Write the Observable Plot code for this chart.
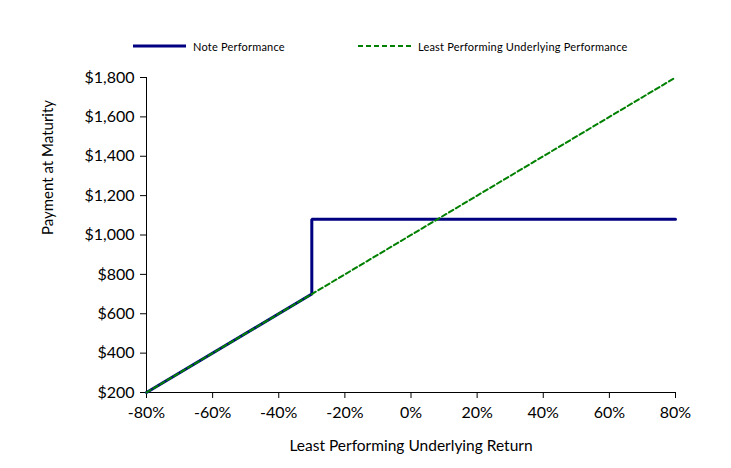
<!DOCTYPE html>
<html>
<head>
<meta charset="utf-8">
<script src="https://cdn.jsdelivr.net/npm/d3@7"></script>
<script src="https://cdn.jsdelivr.net/npm/@observablehq/plot@0.6"></script>
<style>
  body { margin: 0; background: #fff; font-family: Lato, "Open Sans", sans-serif; }
  #wrap { width: 731px; height: 468px; position: relative; }
  #legend { position: relative; height: 60px; width: 731px; font-size: 11px; color: #000; }
  .item { position: absolute; top: 39px; display: flex; align-items: center; height: 14px; }
  .item svg { margin-right: 7px; }
</style>
</head>
<body>
<div id="wrap">
  <div id="legend"></div>
  <div id="chart"></div>
</div>
<script>
// Data
const noteReturns = [-80, -30, -30, 80];
const notePayments = [200, 700, 1080, 1080];
const underlyingReturns = [-80, 80];
const underlyingPayments = [200, 1800];
const xTicks = [-80, -60, -40, -20, 0, 20, 40, 60, 80];
const yTicks = [200, 400, 600, 800, 1000, 1200, 1400, 1600, 1800];
const seriesNames = ["Note Performance", "Least Performing Underlying Performance"];
const seriesColors = ["#000080", "#008000"];

const note = noteReturns.map((x, i) => ({x, y: notePayments[i]}));
const under = underlyingReturns.map((x, i) => ({x, y: underlyingPayments[i]}));

// Legend
const legend = document.getElementById("legend");
const legendPos = [133, 358];
seriesNames.forEach((name, i) => {
  const d = document.createElement("div");
  d.className = "item";
  d.style.left = legendPos[i] + "px";
  const dash = i === 1 ? 'stroke-dasharray="5,3"' : "";
  const sw = i === 1 ? 2 : 3;
  d.innerHTML = `<svg width="53" height="6"><line x1="0" y1="3" x2="53" y2="3" stroke="${seriesColors[i]}" stroke-width="${sw}" ${dash}/></svg><span style="letter-spacing:0.2px">${name}</span>`;
  legend.appendChild(d);
});

const chart = Plot.plot({
  width: 731,
  height: 408,
  marginTop: 17,
  marginBottom: 76,
  marginLeft: 146,
  marginRight: 56,
  style: { fontFamily: "Lato, 'Open Sans', sans-serif", fontSize: "15px", color: "#000", background: "#fff" },
  x: { domain: [-80, 80] },
  y: { domain: [200, 1800] },
  marks: [
    Plot.axisY({ ticks: yTicks, tickSize: 6, tickPadding: 6, tickFormat: d => "$" + d3.format(",")(d), fontSize: 16, label: null }),
    Plot.axisX({ ticks: xTicks, tickSize: 6, tickPadding: 8, tickFormat: d => d + "%", fontSize: 16, label: null }),
    Plot.ruleX([-80], { stroke: "#000", strokeWidth: 1 }),
    Plot.ruleY([200], { stroke: "#000", strokeWidth: 1 }),
    Plot.line(note, { x: "x", y: "y", stroke: seriesColors[0], strokeWidth: 3, strokeLinejoin: "miter" }),
    Plot.line(under, { x: "x", y: "y", stroke: seriesColors[1], strokeWidth: 2, strokeDasharray: "5,3" }),
    Plot.text(["Least Performing Underlying Return"], { frameAnchor: "bottom", dy: 58, fontSize: 15.5 }),
    Plot.text(["Payment at Maturity"], { frameAnchor: "left", dx: -98, rotate: -90, fontSize: 15 })
  ]
});
document.getElementById("chart").appendChild(chart);
</script>
</body>
</html>
